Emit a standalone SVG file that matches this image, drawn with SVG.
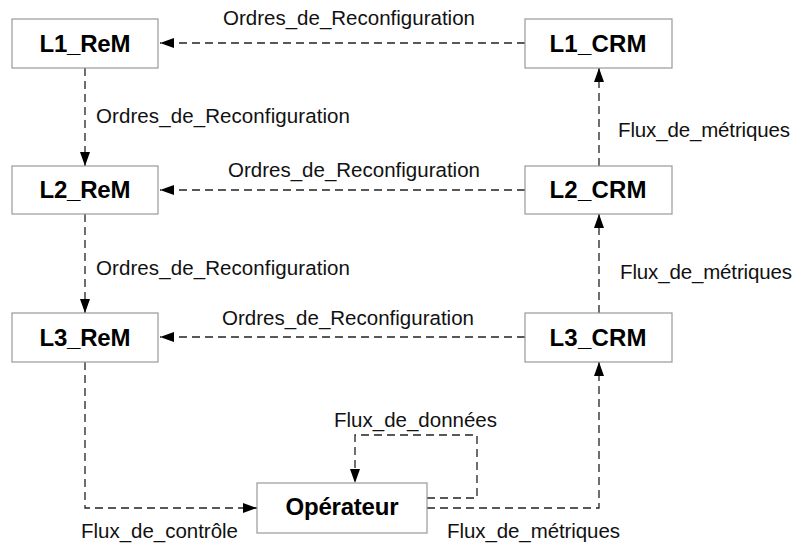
<svg xmlns="http://www.w3.org/2000/svg" width="794" height="545" viewBox="0 0 794 545">
<style>
.box{fill:#fff;stroke:#999;stroke-width:1.2}
.nl{font-family:"Liberation Sans",Arial,sans-serif;font-weight:bold;font-size:24px;fill:#000;text-anchor:middle}
.el{font-family:"Liberation Sans",Arial,sans-serif;font-size:20.5px;fill:#111}
.c{fill:none;stroke:#222;stroke-width:1.3;stroke-dasharray:8,5}
</style>
<defs>
<marker id="ah" markerUnits="userSpaceOnUse" markerWidth="15" markerHeight="11" refX="14" refY="5" orient="auto">
<path d="M0,0 L14,5 L0,10 z" fill="#000"/>
</marker>
</defs>
<g id="connectors">
<path class="c" d="M525,43 H160" marker-end="url(#ah)"/>
<path class="c" d="M525,190 H160" marker-end="url(#ah)"/>
<path class="c" d="M525,337 H160" marker-end="url(#ah)"/>
<path class="c" d="M85,68 V166" marker-end="url(#ah)"/>
<path class="c" d="M85,214 V313" marker-end="url(#ah)"/>
<path class="c" d="M599,166 V68" marker-end="url(#ah)"/>
<path class="c" d="M599,313 V214" marker-end="url(#ah)"/>
<path class="c" d="M85,362 V508 H257" marker-end="url(#ah)"/>
<path class="c" d="M427,508 H599 V362" marker-end="url(#ah)"/>
<path class="c" d="M427,498 H477 V435 H355 V483" marker-end="url(#ah)"/>
<text class="el" x="223" y="25" textLength="252">Ordres_de_Reconfiguration</text>
<text class="el" x="228" y="177" textLength="252">Ordres_de_Reconfiguration</text>
<text class="el" x="222" y="325" textLength="252">Ordres_de_Reconfiguration</text>
<text class="el" x="96" y="123" textLength="254">Ordres_de_Reconfiguration</text>
<text class="el" x="96" y="275" textLength="254">Ordres_de_Reconfiguration</text>
<text class="el" x="618" y="137" textLength="172">Flux_de_métriques</text>
<text class="el" x="620" y="279" textLength="172">Flux_de_métriques</text>
<text class="el" x="447" y="538" textLength="173">Flux_de_métriques</text>
<text class="el" x="81" y="538" textLength="157">Flux_de_contrôle</text>
<text class="el" x="334" y="427" textLength="163">Flux_de_données</text>
</g>
<g id="L1_ReM"><rect class="box" x="12" y="19" width="146" height="49"/><text class="nl" x="85" y="52" textLength="91">L1_ReM</text></g>
<g id="L2_ReM"><rect class="box" x="12" y="166" width="146" height="48"/><text class="nl" x="85" y="198" textLength="91">L2_ReM</text></g>
<g id="L3_ReM"><rect class="box" x="12" y="313" width="146" height="49"/><text class="nl" x="85" y="346" textLength="91">L3_ReM</text></g>
<g id="L1_CRM"><rect class="box" x="525" y="19" width="147" height="49"/><text class="nl" x="598" y="52" textLength="97">L1_CRM</text></g>
<g id="L2_CRM"><rect class="box" x="525" y="166" width="147" height="48"/><text class="nl" x="598" y="198" textLength="97">L2_CRM</text></g>
<g id="L3_CRM"><rect class="box" x="525" y="313" width="147" height="49"/><text class="nl" x="598" y="346" textLength="97">L3_CRM</text></g>
<g id="Operateur"><rect class="box" x="257" y="483" width="170" height="50"/><text class="nl" x="342" y="515" textLength="113">Opérateur</text></g>
</svg>
